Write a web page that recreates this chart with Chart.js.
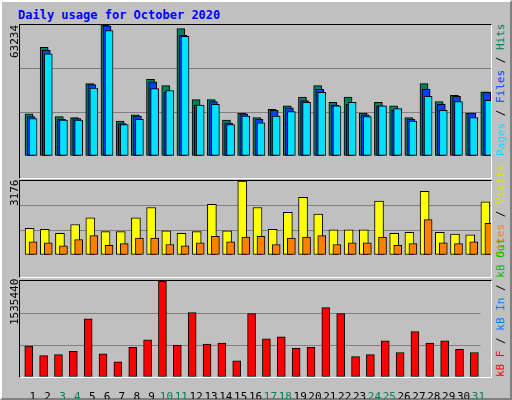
<!DOCTYPE html>
<html>
<head>
<script src="https://cdn.jsdelivr.net/npm/chart.js@4"></script>
<style>
body { margin:0; background:#fff; }
#frame { position:absolute; left:0; top:0; width:508px; height:396px; background:#c0c0c0;
  border-top:2px solid #fff; border-left:2px solid #fff; border-right:2px solid #808080; border-bottom:2px solid #808080; }
.title { position:absolute; left:18px; top:8px; font:bold 12px "DejaVu Sans Mono", monospace; color:#0000ff; }
.panel { position:absolute; left:19px; width:471px; border:1px solid #000; border-right:1px solid #fff; border-bottom:1px solid #fff; }
.rot { position:absolute; font:11px "DejaVu Sans Mono", monospace; white-space:nowrap; line-height:13px;
  transform-origin:left top; transform:rotate(-90deg); }
</style>
</head>
<body>
<div id="frame"></div>
<div class="title">Daily usage for October 2020</div>
<div class="panel" style="top:24px;height:153px"><canvas id="c1"></canvas></div>
<div class="panel" style="top:180px;height:96px"><canvas id="c2"></canvas></div>
<div style="position:absolute;left:20px;top:281px;width:471px;height:118px"><canvas id="c3"></canvas></div>
<div class="panel" style="top:280px;height:96px;pointer-events:none"></div>
<div class="rot" id="m1" style="left:8px;top:58px"></div>
<div class="rot" id="m2" style="left:8px;top:206px"></div>
<div class="rot" id="m3" style="left:8px;top:325px"></div>
<div class="rot" style="left:494px;top:156px"><span style="color:#00e0ff">Pages</span> / <span style="color:#0040ff">Files</span> / <span style="color:#00805c">Hits</span></div>
<div class="rot" style="left:494px;top:257px"><span style="color:#ff8000">Sites</span> / <span style="color:#e0e000">Visits</span></div>
<div class="rot" style="left:494px;top:377px"><span style="color:#ff0000">kB F</span> / <span style="color:#0080ff">kB In</span> / <span style="color:#00c000">kB Out</span></div>
<script>
const days = [1,2,3,4,5,6,7,8,9,10,11,12,13,14,15,16,17,18,19,20,21,22,23,24,25,26,27,28,29,30,31];
const weekend = [3,4,10,11,17,18,24,25,31];
const hits = [20300,52500,19000,18600,34900,63234,16900,19900,37000,34000,61500,27200,27200,17300,20700,18600,22500,24200,28500,34000,25900,28500,20700,25900,24200,18600,34900,26300,29300,20700,31000];
const files = [19000,51000,17700,18100,34500,62800,15600,19300,35800,30700,58200,24600,26300,15900,20300,17700,22000,23300,26700,32200,24600,25000,19900,24200,22000,17700,32200,25000,28800,20700,30700];
const pages = [18100,49300,17300,17300,32800,60600,15200,17700,32500,31600,57800,24600,25000,15200,19300,16000,19300,21500,25900,30700,24200,25900,19000,24200,22900,16900,28800,22000,26300,18600,26900];
const visits = [1140,1100,930,1310,1590,1000,1000,1590,2040,1040,930,1000,2170,1040,3176,2040,1100,1830,2480,1760,1080,1080,1080,2310,930,970,2730,970,900,870,2280];
const sites = [560,520,390,660,830,420,490,730,730,450,390,520,800,560,770,800,450,730,770,830,450,520,520,770,420,490,1520,520,490,560,1360];
const kbytes = [493000,342000,359000,409000,930000,370000,241000,476000,594000,1535440,510000,1031000,527000,544000,258000,1014000,610000,644000,459000,476000,1110000,1014000,325000,359000,577000,392000,728000,544000,577000,443000,392000];

const xMin = 0.14, xMax = 31.14;
const pts = (arr, off) => arr.map((v, i) => ({ x: days[i] + off, y: v }));
const bar = (label, data, color, w) => ({ label, data, backgroundColor: color, borderColor: '#000',
  borderWidth: 1, borderSkipped: false, barThickness: w, grouped: false });

function opts(maxVal, showX) {
  return {
    responsive: true, maintainAspectRatio: false, animation: false,
    plugins: { legend: { display: false }, tooltip: { enabled: false } },
    layout: { padding: 0 },
    scales: {
      x: { type: 'linear', min: xMin, max: xMax, offset: false, display: showX,
        grid: { display: false }, border: { display: false },
        afterBuildTicks: ax => { ax.ticks = days.map(d => ({ value: d })); },
        afterFit: ax => { ax.height = 22; },
        ticks: { padding: 6, autoSkip: false, maxRotation: 0,
          font: { family: 'DejaVu Sans Mono', size: 11 },
          color: c => weekend.includes(c.tick.value) ? '#00805c' : '#000',
          callback: v => String(v) } },
      y: { min: 0, max: maxVal, display: true,
        afterBuildTicks: ax => { ax.ticks = [0, 1, 2, 3].map(k => ({ value: maxVal * k / 3 })); },
        afterFit: ax => { ax.width = 0; },
        ticks: { display: false }, border: { display: false },
        grid: { drawTicks: false, color: c => (c.index === 1 || c.index === 2) ? '#808080' : 'rgba(0,0,0,0)' } }
    }
  };
}

const maxHits = Math.max(...hits), maxVis = Math.max(...visits), maxKb = Math.max(...kbytes);
document.getElementById('m1').textContent = maxHits;
document.getElementById('m2').textContent = maxVis;
document.getElementById('m3').textContent = maxKb;

new Chart(document.getElementById('c1'), { type: 'bar',
  data: { datasets: [bar('Pages', pts(pages, 0), '#00e0ff', 8), bar('Files', pts(files, -0.13), '#0040ff', 8), bar('Hits', pts(hits, -0.27), '#00805c', 8)] },
  options: opts(maxHits, false) });
new Chart(document.getElementById('c2'), { type: 'bar',
  data: { datasets: [bar('Sites', pts(sites, 0), '#ff8000', 8), bar('Visits', pts(visits, -0.23), '#ffff00', 9)] },
  options: opts(maxVis, false) });
new Chart(document.getElementById('c3'), { type: 'bar',
  data: { datasets: [bar('kB F', pts(kbytes, -0.27), '#ff0000', 8)] },
  options: opts(maxKb, true) });
</script>
</body>
</html>
